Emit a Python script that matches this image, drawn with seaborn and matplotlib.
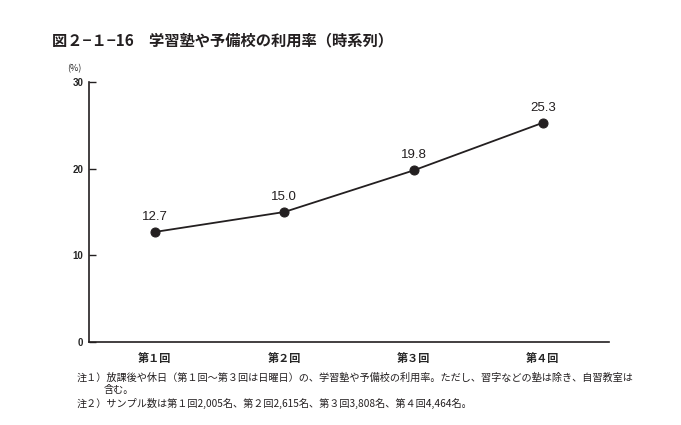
import pandas as pd
import seaborn as sns
import matplotlib.pyplot as plt

# 調査回と利用率
rounds = ['第１回', '第２回', '第３回', '第４回']
rates = [12.7, 15.0, 19.8, 25.3]
y_ticks = [0, 10, 20, 30]

df = pd.DataFrame({'round': rounds, 'rate': rates})

sns.set_theme(style='white')
plt.rcParams['font.family'] = ['Noto Sans CJK JP', 'DejaVu Sans']
plt.rcParams['ytick.direction'] = 'in'

fig = plt.figure(figsize=(6.81, 4.25), dpi=100)
ax = fig.add_axes([0.1307, 0.1953, 0.7633, 0.6117])

sns.lineplot(data=df, x='round', y='rate', ax=ax, color='#231f20',
             linewidth=1.3, marker='o', markersize=6.5,
             markeredgecolor='#231f20', markerfacecolor='#231f20', sort=False)

for i, v in enumerate(rates):
    ax.annotate(f'{v:.1f}', (i, v), xytext=(0, 6.5), textcoords='offset points',
                ha='center', va='bottom', fontsize=9.5,
                color='#231f20', family=['Liberation Sans', 'DejaVu Sans'])

ax.set_xlim(-0.51, 3.51)
ax.set_ylim(0, 30)
ax.set_yticks(y_ticks)
ax.set_yticklabels([str(t) for t in y_ticks], fontsize=7, fontweight='bold',
                   family=['Liberation Sans', 'DejaVu Sans'])
ax.set_xticks(range(len(rounds)))
ax.set_xticklabels(rounds, fontsize=8, fontweight='bold')
ax.tick_params(axis='y', direction='in', length=5, width=1, color='#231f20',
               pad=4, left=True)
ax.tick_params(axis='x', length=0, pad=7)
ax.set_xlabel('')
ax.set_ylabel('')

for side in ['top', 'right']:
    ax.spines[side].set_visible(False)
for side in ['left', 'bottom']:
    ax.spines[side].set_color('#231f20')
    ax.spines[side].set_linewidth(1.2)

ax.text(-0.015, 1.035, '(%)', transform=ax.transAxes, fontsize=6.5,
        ha='right', va='bottom')

fig.text(0.076, 0.905, '図２−１−16　学習塾や予備校の利用率（時系列）',
         fontsize=11, fontweight='bold', color='#231f20', va='center')

note_kw = dict(fontsize=7.3, color='#231f20', va='center')
fig.text(0.113, 0.111, '注１）放課後や休日（第１回〜第３回は日曜日）の、学習塾や予備校の利用率。ただし、習字などの塾は除き、自習教室は', **note_kw)
fig.text(0.152, 0.082, '含む。', **note_kw)
fig.text(0.113, 0.050, '注２）サンプル数は第１回2,005名、第２回2,615名、第３回3,808名、第４回4,464名。', **note_kw)

fig.savefig('out.png', dpi=100)
